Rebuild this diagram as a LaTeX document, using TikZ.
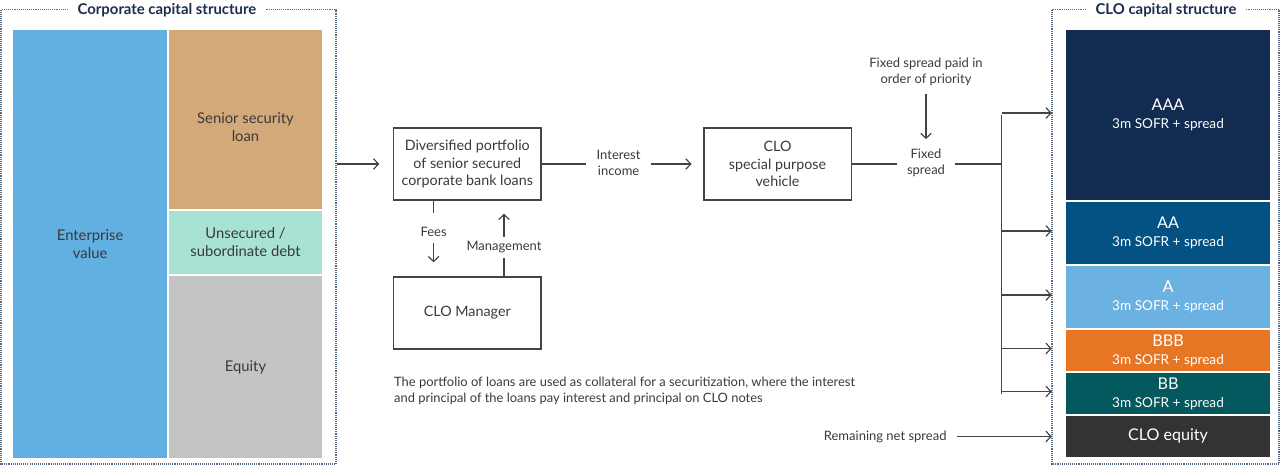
\documentclass[tikz,border=0pt]{standalone}
\usepackage{fontspec}
\setmainfont{Lato}
\usetikzlibrary{arrows.meta}
\definecolor{evblue}{HTML}{62AFE1}
\definecolor{tanc}{HTML}{D4A97A}
\definecolor{mintc}{HTML}{A8E2D4}
\definecolor{grayc}{HTML}{C4C4C4}
\definecolor{aaac}{HTML}{122C51}
\definecolor{aac}{HTML}{035283}
\definecolor{ac}{HTML}{6BB1E1}
\definecolor{bbbc}{HTML}{E77624}
\definecolor{bbc}{HTML}{04595E}
\definecolor{eqc}{HTML}{333333}
\definecolor{txtc}{HTML}{3A3A3A}
\definecolor{navyc}{HTML}{1B2E4E}
\definecolor{linec}{HTML}{444444}
\definecolor{framec}{HTML}{5B6B85}
\tikzset{
 blk/.style={draw=none, inner sep=0pt, align=center, text=txtc, font=\fontsize{14.8}{18}\selectfont},
 tranche/.style={draw=none, inner sep=0pt, align=center, text=white, minimum width=204.6pt, font=\fontsize{13.6}{18}\selectfont},
 flowbox/.style={draw=linec, line width=1.4pt, inner sep=0pt, minimum width=147.4pt, minimum height=72pt, align=center, text=txtc, font=\fontsize{14.3}{17.5}\selectfont},
 lab/.style={text=txtc, align=center, font=\fontsize{13}{15.5}\selectfont, inner sep=0pt},
 con/.style={draw=linec, line width=1.2pt},
 arr/.style={con, -{Straight Barb[length=5pt,width=10.5pt]}},
 dotframe/.style={draw=framec, line width=1.1pt, densely dotted},
 ttl/.style={fill=white, text=navyc, font=\bfseries\fontsize{14.9}{16}\selectfont, inner xsep=10pt, inner ysep=2pt}
}
\begin{document}
\begin{tikzpicture}[x=1pt,y=-1pt]
\useasboundingbox (0,0) rectangle (1280,466);
% frames
\draw[dotframe] (1,9.5) rectangle (336,464);
\draw[dotframe] (1052,9.5) rectangle (1279,464);
\node[ttl] (ltitle) at (167,10) {Corporate capital structure};
\node[ttl] (rtitle) at (1166,10) {CLO capital structure};
% corporate blocks
\node[blk, fill=evblue, minimum width=153.7pt, minimum height=428pt] (ev) at (90.15,244) {Enterprise\\value};
\node[blk, fill=tanc, minimum width=153pt, minimum height=179pt] (sen) at (245.5,119.5) {};
\node[blk] (sent) at (245.5,127) {Senior security\\loan};
\node[blk, fill=mintc, minimum width=153pt, minimum height=63pt] (uns) at (245.5,242.5) {Unsecured /\\subordinate debt};
\node[blk, fill=grayc, minimum width=153pt, minimum height=182pt] (eqy) at (245.5,367) {Equity};
% CLO tranches
\node[tranche, fill=aaac, minimum height=170pt] (tAAA) at (1168,115) {{\fontsize{16.2}{18}\selectfont AAA}\\3m SOFR + spread};
\node[tranche, fill=aac, minimum height=62.6pt] (tAA) at (1168,233) {{\fontsize{16.2}{18}\selectfont AA}\\3m SOFR + spread};
\node[tranche, fill=ac, minimum height=62.6pt] (tA) at (1168,297) {{\fontsize{16.2}{18}\selectfont A}\\3m SOFR + spread};
\node[tranche, fill=bbbc, minimum height=41pt] (tBBB) at (1168,350.5) {{\fontsize{16.2}{18}\selectfont BBB}\\3m SOFR + spread};
\node[tranche, fill=bbc, minimum height=41.6pt] (tBB) at (1168,393.5) {{\fontsize{16.2}{18}\selectfont BB}\\3m SOFR + spread};
\node[tranche, fill=eqc, minimum height=41pt, font=\fontsize{16.1}{18}\selectfont] (tEQ) at (1168,436.5) {CLO equity};
% flow boxes
\node[flowbox] (port) at (467.3,164) {Diversified portfolio\\of senior secured\\corporate bank loans};
\node[flowbox] (mgr) at (467.3,313) {CLO Manager};
\node[flowbox] (spv) at (777.5,164) {CLO\\special purpose\\vehicle};
% labels
\node[lab, inner xsep=10pt] (int) at (618.6,163) {Interest\\income};
\node[lab, inner xsep=10pt] (fix) at (926,163) {Fixed\\spread};
\node[lab] (prio) at (926,72) {Fixed spread paid in\\order of priority};
\node[lab, minimum height=22pt] (fees) at (433.6,232) {Fees};
\node[lab, minimum height=21pt] (mgmt) at (504,247.5) {Management};
\node[lab, inner xsep=10pt, anchor=east] (rem) at (956.7,436.5) {Remaining net spread};
\node[lab, align=left, anchor=north west, font=\fontsize{12.9}{16}\selectfont] (note) at (394,377) {The portfolio of loans are used as collateral for a securitization, where the interest\\and principal of the loans pay interest and principal on CLO notes};
% connectors
\coordinate (lfr) at (337,164);
\draw[arr, shorten >=13.6pt] (lfr) -- (port.west);
\draw[con] (port.east) -- (port.east -| int.west);
\draw[arr, shorten >=11.5pt] (int.east |- spv.west) -- (spv.west);
\draw[con] (spv.east) -- (spv.east -| fix.west);
\coordinate (jn) at (1001.7,164);
\draw[con] (spv.east -| fix.east) -- (jn);
\draw[arr, shorten <=8pt, shorten >=10pt] (prio.south) -- (fix.north);
\draw[con] (jn |- tAAA.west) -- (jn |- tBB.west);
\foreach \t in {tAAA,tAA,tA,tBBB,tBB}{
  \draw[arr, shorten >=13.7pt] ([yshift=2pt]jn |- \t.west) -- ([yshift=2pt]\t.west);
}
\draw[arr, shorten >=13.7pt] (rem.east) -- (tEQ.west);
\draw[con] (port.south -| fees) -- ([yshift=8pt]fees.north);
\draw[arr, shorten >=14pt] (fees.south) -- (mgr.north -| fees);
\draw[con] (mgr.north -| mgmt) -- (mgmt.south);
\draw[arr, shorten >=13pt] (mgmt.north) -- (port.south -| mgmt);
\end{tikzpicture}
\end{document}
